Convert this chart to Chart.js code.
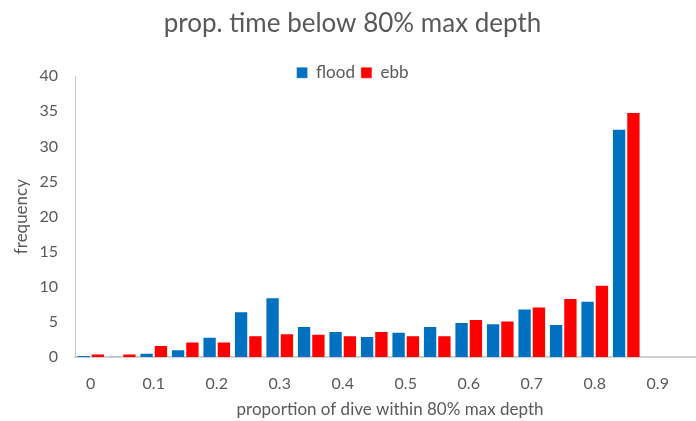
<!DOCTYPE html>
<html>
<head>
<meta charset="utf-8">
<script src="https://cdn.jsdelivr.net/npm/chart.js@4"></script>
<style>
  html, body { margin: 0; padding: 0; background: #ffffff; overflow: hidden; }
  #wrap { width: 722px; height: 421px; }
</style>
</head>
<body>
<div id="wrap"><canvas id="chart" width="722" height="421"></canvas></div>
<script>
// bins of proportion of dive within 80% max depth
const categories = ['0', '0.05', '0.1', '0.15', '0.2', '0.25', '0.3', '0.35', '0.4', '0.45',
  '0.5', '0.55', '0.6', '0.65', '0.7', '0.75', '0.8', '0.85', '0.9', '0.95'];
const floodValues = [0.3, 0.1, 0.6, 1.1, 2.9, 6.5, 8.5, 4.4, 3.7, 3.0,
  3.6, 4.4, 5.0, 4.8, 6.9, 4.7, 8.0, 32.5, 0, 0];
const ebbValues = [0.5, 0.5, 1.7, 2.2, 2.2, 3.1, 3.4, 3.3, 3.1, 3.7,
  3.1, 3.1, 5.4, 5.2, 7.2, 8.4, 10.3, 34.9, 0, 0];
const yTicks = [0, 5, 10, 15, 20, 25, 30, 35, 40];

const FONT = 'Lato, "Open Sans", sans-serif';
const GREY = '#595959';
const LEGEND_SHIFT = 15; // excel draws the legend over the top of the plot

// nudge the legend down so it overlaps the plot top like the original
const legendOffset = {
  id: 'legendOffset',
  afterUpdate(chart) {
    if (!chart.legend) return;
    chart.legend.top += LEGEND_SHIFT;
    chart.legend.bottom += LEGEND_SHIFT;
  }
};

const ctx = document.getElementById('chart').getContext('2d');
new Chart(ctx, {
  type: 'bar',
  data: {
    labels: categories,
    datasets: [
      {
        label: 'flood',
        data: floodValues,
        backgroundColor: '#0070C0',
        borderColor: 'rgba(255, 255, 255, 0.35)',
        borderWidth: 1,
        categoryPercentage: 0.91,
        barPercentage: 1.0
      },
      {
        label: 'ebb',
        data: ebbValues,
        backgroundColor: '#FF0000',
        borderColor: 'rgba(255, 255, 255, 0.35)',
        borderWidth: 1,
        categoryPercentage: 0.91,
        barPercentage: 1.0
      }
    ]
  },
  plugins: [legendOffset],
  options: {
    responsive: false,
    animation: false,
    layout: { padding: { left: 0, right: 17, top: 0, bottom: 0 } },
    plugins: {
      title: {
        display: true,
        text: 'prop. time below 80% max depth',
        color: GREY,
        font: { family: FONT, size: 26, weight: 'normal' },
        padding: { top: 8, bottom: 4 }
      },
      legend: {
        display: true,
        position: 'top',
        labels: {
          color: GREY,
          font: { family: FONT, size: 17 },
          boxWidth: 11,
          boxHeight: 11,
          padding: 6
        }
      },
      tooltip: { enabled: false }
    },
    scales: {
      x: {
        afterFit: axis => { axis.height = 64; },
        grid: { display: false, drawTicks: false },
        border: { display: true, color: '#D0D0D0', width: 2 },
        ticks: {
          color: GREY,
          font: { family: FONT, size: 16 },
          autoSkip: false,
          maxRotation: 0,
          padding: 17,
          callback: (val, i) => (i % 2 === 0 ? categories[i] : '')
        },
        title: {
          display: true,
          text: 'proportion of dive within 80% max depth',
          color: GREY,
          font: { family: FONT, size: 17 },
          padding: { top: 0, bottom: 1 }
        }
      },
      y: {
        min: 0,
        max: 40,
        afterFit: axis => { axis.width = 75; },
        grid: { display: false, drawTicks: false },
        border: { display: true, color: '#C8C8C8', width: 1 },
        afterBuildTicks: axis => { axis.ticks = yTicks.map(v => ({ value: v })); },
        ticks: {
          color: GREY,
          font: { family: FONT, size: 16 },
          padding: 17
        },
        title: {
          display: true,
          text: 'frequency',
          color: GREY,
          font: { family: FONT, size: 17 },
          padding: { top: 11, bottom: 0 }
        }
      }
    }
  }
});
</script>
</body>
</html>
